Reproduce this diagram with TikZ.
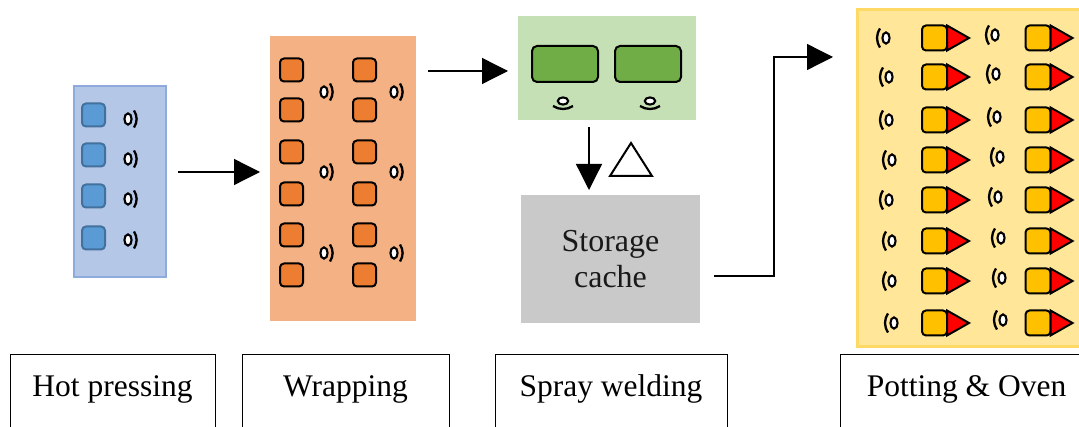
\documentclass[tikz,border=0pt]{standalone}
\usepackage{fontspec}
\setmainfont{Liberation Serif}
\usetikzlibrary{arrows.meta}
\definecolor{bluebg}{HTML}{B4C7E7}
\definecolor{blueln}{HTML}{8FAADC}
\definecolor{bluesq}{HTML}{5B9BD5}
\definecolor{bluesqln}{HTML}{41719C}
\definecolor{orgbg}{HTML}{F4B183}
\definecolor{orgsq}{HTML}{ED7D31}
\definecolor{grnbg}{HTML}{C5E0B4}
\definecolor{grnsq}{HTML}{70AD47}
\definecolor{graybg}{HTML}{C9C9C9}
\definecolor{yelbg}{HTML}{FFE699}
\definecolor{yelln}{HTML}{FFD966}
\definecolor{goldsq}{HTML}{FFC000}
\definecolor{redtri}{HTML}{FF0000}
\begin{document}
\begin{tikzpicture}[x=1pt,y=-1pt,
  panel/.style={inner sep=0pt,outer sep=0pt,rectangle},
  sq/.style={inner sep=0pt,outer sep=0pt,rectangle,rounded corners=4pt,line width=2pt,minimum width=23pt,minimum height=23pt},
  conn/.style={line width=1.3pt,-{Triangle[length=26pt,width=26pt]}},
  label/.style={draw=black,line width=1pt,inner sep=0pt,outer sep=0pt,minimum height=110pt,anchor=north},
  lbltext/.style={font=\fontsize{31.5}{36}\selectfont,anchor=base,inner sep=0pt},
  sigr/.pic={\draw[line width=2.1pt,fill=white] (0,0) ellipse [x radius=3.6, y radius=5.6];
             \draw[line width=2.3pt] (6,-8.5) .. controls (9.5,-3) and (9.5,3) .. (6,8.5);},
  sigl/.pic={\draw[line width=2.1pt,fill=white] (0,0) ellipse [x radius=3.6, y radius=5.6];
             \draw[line width=2.3pt] (-6,-9.5) .. controls (-10,-3) and (-10,3) .. (-6,9.5);},
  sigd/.pic={\draw[line width=2.1pt,fill=white] (0,0) ellipse [x radius=5.2, y radius=3.6];
             \draw[line width=2.3pt] (-10,5) .. controls (-4,9) and (4,9) .. (10,5);}
]
\useasboundingbox (0,0) rectangle (1079,427);
\clip (0,0) rectangle (1079,427);

% ---- Hot pressing panel
\node[panel,fill=bluebg,draw=blueln,line width=1.5pt,minimum width=92pt,minimum height=191pt] (hp) at (120,181.5) {};
\foreach \y [count=\i] in {115,155,196,238} {
  \node[sq,fill=bluesq,draw=bluesqln] (hb\i) at (93.5,\y) {};
}
\foreach \y in {119,159,199,240} { \pic at (128,\y) {sigr}; }

% ---- Wrapping panel
\node[panel,fill=orgbg,minimum width=146pt,minimum height=285pt] (wr) at (343,178.5) {};
\foreach \y [count=\i] in {70,110,152,194,235,275} {
  \node[sq,fill=orgsq,draw=black] (wl\i) at (291.5,\y) {};
  \node[sq,fill=orgsq,draw=black] (wrr\i) at (364.5,\y) {};
}
\foreach \y in {92,172,253} { \pic at (324,\y) {sigr}; \pic at (394,\y) {sigr}; }

% ---- Spray welding panel
\node[panel,fill=grnbg,minimum width=178pt,minimum height=104pt] (sw) at (607,68) {};
\node[inner sep=0pt,rectangle,rounded corners=5pt,line width=2pt,draw=black,fill=grnsq,minimum width=66pt,minimum height=36pt] (g1) at (565,64) {};
\node[inner sep=0pt,rectangle,rounded corners=5pt,line width=2pt,draw=black,fill=grnsq,minimum width=66pt,minimum height=36pt] (g2) at (648,64) {};
\pic at (563,101) {sigd};
\pic at (650,101) {sigd};

% ---- Storage cache
\node[panel,fill=graybg,minimum width=179pt,minimum height=128pt,align=center,
      font=\fontsize{32}{36}\selectfont,text=black!90] (sc) at (610.5,259) {Storage\\cache};

% ---- triangle symbol
\draw[line width=2pt,fill=white,line join=miter] (610,176) -- (652,176) -- (631,143) -- cycle;

% ---- Potting & Oven panel
\node[panel,fill=yelbg,draw=yelln,line width=3pt,minimum width=240pt,minimum height=337pt] (po) at (977,178.5) {};
\foreach \y/\sa/\sb [count=\i] in {38/886/995,77/889/996,120/889/997,160/892/1000,200/889/998,241/892/1001,281/892/1002,323/894/1003} {
  \node[sq,fill=goldsq,draw=black,minimum width=25pt,minimum height=25pt] (ya\i) at (934.5,\y) {};
  \draw[line width=2pt,fill=redtri,line join=miter] (ya\i.east) ++(0,-12.5) -- ++(22,12.5) -- ++(-22,12.5) -- cycle;
  \node[sq,fill=goldsq,draw=black,minimum width=25pt,minimum height=25pt] (yb\i) at (1038,\y) {};
  \draw[line width=2pt,fill=redtri,line join=miter] (yb\i.east) ++(0,-12.5) -- ++(22,12.5) -- ++(-22,12.5) -- cycle;
  \pic at (\sa,\y) {sigl};
  \pic at (\sb,\y-3) {sigl};
}

% ---- connectors
\coordinate (a1s) at (178,172);
\coordinate (a1e) at (260,172);
\draw[conn] (a1s) -- (a1e);
\coordinate (a2s) at (428,71);
\coordinate (a2e) at (508,71);
\draw[conn] (a2s) -- (a2e);
\coordinate (a3s) at (589,127);
\coordinate (a3e) at (589,190);
\draw[conn] (a3s) -- (a3e);
\coordinate (a4s) at (714,276);
\coordinate (a4m) at (774,57);
\coordinate (a4e) at (833,57);
\draw[conn] (a4s) -| (a4m) -- (a4e);

% ---- labels
\node[label,minimum width=205pt] (l1) at (112.5,355) {};
\node[lbltext] (t1) at (112.5,397) {Hot pressing};
\node[label,minimum width=207pt] (l2) at (345.5,355) {};
\node[lbltext] (t2) at (345.5,397) {Wrapping};
\node[label,minimum width=232pt] (l3) at (611,355) {};
\node[lbltext] (t3) at (611,397) {Spray welding};
\node[label,minimum width=250pt] (l4) at (965,355) {};
\node[lbltext] (t4) at (966.5,397) {Potting \& Oven};
\end{tikzpicture}
\end{document}
